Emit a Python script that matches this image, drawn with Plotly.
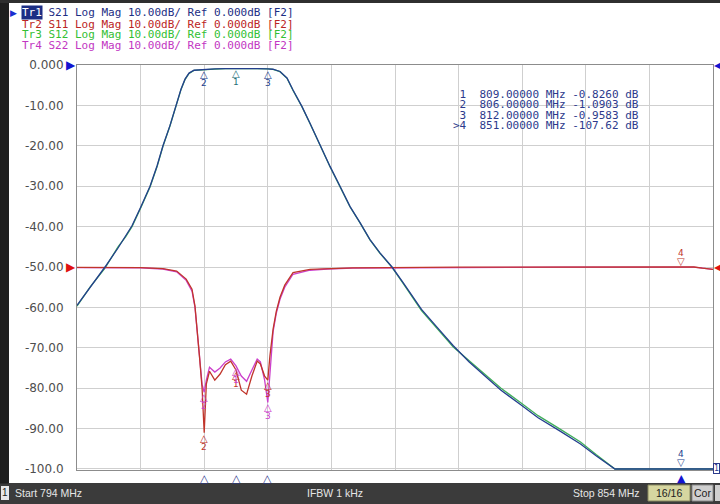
import numpy as np
import plotly.graph_objects as go

# ---------------- data ----------------
f21 = [794, 795.23, 796.64, 797.87, 798.6, 799.19, 800.04, 800.89, 801.55, 802.11, 802.77,
       803.34, 803.81, 804.19, 804.57, 805.04, 806, 807, 808, 809, 810, 811, 812,
       812.49, 813.15, 813.81, 814.38, 815.23, 815.98, 816.92, 817.87, 818.81, 819.75,
       820.70, 821.64, 822.58, 823.72, 824.75, 825.70, 826.5, 828, 829.5, 831, 832.5,
       834, 835.8, 837.5, 839.5, 841.5, 843, 844.75, 847, 849, 851, 852.5, 854]
s21 = [-59.5, -55.2, -50, -45.3, -42.3, -39.8, -35, -30, -25, -20, -15, -10, -6, -3.5, -2.0,
       -1.3, -1.09, -0.98, -0.88, -0.826, -0.85, -0.9, -0.958, -1.05, -1.6, -3.2, -6.2,
       -10.3, -14.4, -19.8, -25.1, -30, -35, -39, -43.2, -46.5, -50, -53.8, -57.5,
       -60.5, -65, -69.5, -73.5, -77, -80.5, -84, -87.3, -90.5, -93.8, -96.8, -100,
       -103.5, -106, -107.62, -109, -110]
s12 = [-59.7, -55.0, -50.3, -45.0, -42.5, -40.0, -35.2, -30.2, -25.2, -20.1, -15.1, -10.1,
       -6.1, -3.6, -2.1, -1.35, -1.12, -1.0, -0.9, -0.85, -0.87, -0.92, -0.98, -1.08,
       -1.65, -3.3, -6.3, -10.4, -14.5, -19.9, -25.2, -30.1, -35.1, -39.1, -43.3, -46.6,
       -50.1, -54.0, -57.7, -60.8, -65.3, -69.8, -73.2, -76.6, -80.0, -83.5, -86.8,
       -90.0, -93.3, -96.5, -100.2, -103.8, -106.3, -107.9, -109.2, -110.2]

f_refl = [794, 797, 800, 802.1, 803.4, 804.3, 804.85, 805.13, 805.32, 805.55, 805.8,
          806.0, 806.2, 806.5, 807.0, 807.5, 808.0, 808.5, 809.0, 809.5, 810.0, 810.5,
          811.0, 811.3, 811.7, 812.0, 812.2, 812.5, 812.8, 813.15, 813.6, 814.38,
          815.98, 817.6, 820, 830, 840, 850, 852.2, 853, 854]
s11 = [-50.1, -50.1, -50.15, -50.4, -51.0, -53.0, -55.5, -59.7, -64.7, -72, -80,
       -91.0, -79, -75.8, -78, -76.5, -74.2, -73.3, -75.5, -80.5, -81.5, -77, -73.3,
       -74, -77, -78, -72, -65.4, -61, -57.5, -54.5, -51.4, -50.6, -50.4, -50.2,
       -50.05, -50.0, -50.0, -50.0, -50.3, -50.6]
s22 = [-50.15, -50.15, -50.2, -50.5, -51.2, -53.3, -56, -60, -65, -72, -79,
       -81, -78, -74.8, -76, -75, -73.5, -72.8, -74.5, -77, -78.3, -75.5, -72.8,
       -73.5, -78, -83.5, -76, -66, -61.5, -58, -55, -51.8, -50.8, -50.5, -50.3,
       -50.1, -50.05, -50.05, -50.05, -50.3, -50.6]

ytick_vals = [0, -10, -20, -30, -40, -50, -60, -70, -80, -90, -100]
ytick_text = ["0.000", "-10.00", "-20.00", "-30.00", "-40.00", "-50.00", "-60.00",
              "-70.00", "-80.00", "-90.00", "-100.0"]

trace_ids = ["Tr1", "Tr2", "Tr3", "Tr4"]
trace_params = ["S21", "S11", "S12", "S22"]
trace_fmt = "Log Mag 10.00dB/ Ref 0.000dB [F2]"

marker_ids = ["1", "2", "3", ">4"]
marker_freqs = [809.0, 806.0, 812.0, 851.0]
marker_vals = [-0.8260, -1.0903, -0.9583, -107.62]

start_label = "Start 794 MHz"
ifbw_label = "IFBW 1 kHz"
stop_label = "Stop 854 MHz"
avg_label = "16/16"
cor_label = "Cor"

# ---------------- styling ----------------
YMIN, YMAX = -100.0, 0.0
C21, C11, C12, C22 = "#243f8e", "#c0352b", "#3fae5a", "#cc40cc"
HDR_COLORS = ["#1c2e84", "#bb2424", "#33c033", "#c236c2"]
MONO = "DejaVu Sans Mono"
SANS = "DejaVu Sans"

W, H = 720, 504
L, R, T, B = 77, 713, 65, 470


def PX(px):
    return (px - L) / (R - L)


def PY(py):
    return (B - py) / (B - T)


fig = go.Figure()
for fx, vals, col in [(f21, s12, C12), (f_refl, s22, C22), (f_refl, s11, C11), (f21, s21, C21)]:
    fig.add_trace(go.Scatter(
        x=fx, y=np.maximum(np.array(vals), YMIN), mode="lines",
        line=dict(color=col, width=1.3), hoverinfo="skip"))

ann = []
shapes = []

# header lines
hdr_y = [13, 24, 35, 46]
for i in range(4):
    txt = f"{trace_ids[i]} {trace_params[i]} {trace_fmt}"
    ann.append(dict(xref="paper", yref="paper", x=PX(21), y=PY(hdr_y[i]), text=txt,
                    showarrow=False, xanchor="left", yanchor="middle", borderpad=0,
                    font=dict(family=MONO, size=11, color=HDR_COLORS[i])))
ann.append(dict(xref="paper", yref="paper", x=PX(21), y=PY(hdr_y[0]), text=trace_ids[0],
                showarrow=False, xanchor="left", yanchor="middle", borderpad=0,
                bgcolor="#1c2e84", font=dict(family=MONO, size=11, color="white")))
ann.append(dict(xref="paper", yref="paper", x=PX(19), y=PY(hdr_y[0]), text="▶",
                showarrow=False, xanchor="right", yanchor="middle",
                font=dict(family=SANS, size=9, color="#1a2fd0")))

# marker readout
read_y = [94, 104.5, 115, 125.5]
for i in range(4):
    v = marker_vals[i]
    vs = f"{v:.4f}" if abs(v) < 10 else f"{v:.2f}"
    txt = f"{marker_ids[i]:>2}  {marker_freqs[i]:.5f} MHz {vs} dB"
    ann.append(dict(xref="paper", yref="paper", x=PX(452), y=PY(read_y[i]), text=txt,
                    showarrow=False, xanchor="left", yanchor="middle", borderpad=0,
                    font=dict(family=MONO, size=11, color="#2c3a8c")))

# markers on traces
mk_freqs = marker_freqs[:3]
mk_names = ["1", "2", "3"]
for fx, vals, col in [(f21, s21, C21), (f_refl, s11, C11), (f_refl, s22, C22)]:
    for fm, nm in zip(mk_freqs, mk_names):
        yv = float(np.interp(fm, fx, vals))
        c = "#1f6f78" if (col == C21 and nm == "1") else col
        ann.append(dict(x=fm, y=yv, text="△", showarrow=False, yanchor="top", yshift=2,
                        font=dict(family=SANS, size=10, color=c)))
        ann.append(dict(x=fm, y=yv, text=nm, showarrow=False, yanchor="top", yshift=-7,
                        font=dict(family=SANS, size=9, color=c)))

# marker 4 on S11
m4 = marker_freqs[3]
y4 = float(np.interp(m4, f_refl, s11))
ann.append(dict(x=m4, y=y4, text="▽", showarrow=False, yanchor="bottom", yshift=-2,
                font=dict(family=SANS, size=10, color=C11)))
ann.append(dict(x=m4, y=y4, text="4", showarrow=False, yanchor="bottom", yshift=7,
                font=dict(family=SANS, size=9, color=C11)))
# marker 4 on S21 (off scale)
ann.append(dict(x=m4, y=YMIN, text="▽", showarrow=False, yanchor="bottom", yshift=-1,
                font=dict(family=SANS, size=10, color=C21)))
ann.append(dict(x=m4, y=YMIN, text="4", showarrow=False, yanchor="bottom", yshift=8,
                font=dict(family=SANS, size=9, color=C21)))
ann.append(dict(x=m4, y=YMIN, text="▲", showarrow=False, yanchor="top", yshift=-1,
                font=dict(family=SANS, size=11, color="#1414d0")))
# stimulus markers under the axis
for fm in mk_freqs:
    ann.append(dict(x=fm, y=YMIN, text="△", showarrow=False, yanchor="top", yshift=-1,
                    font=dict(family=SANS, size=11, color="#2c3a8c")))

# reference position arrows
for yv, col in [(0, "#1414d0"), (-50, "#e01010")]:
    ann.append(dict(x=794, y=yv, text="▶", showarrow=False, xanchor="right", yanchor="middle",
                    xshift=1, font=dict(family=SANS, size=12, color=col)))
    ann.append(dict(x=854, y=yv, text="◀", showarrow=False, xanchor="left", yanchor="middle",
                    xshift=-1, font=dict(family=SANS, size=12, color=col)))
ann.append(dict(xref="paper", yref="y", x=PX(716), y=YMIN, text="1", showarrow=False,
                xanchor="center", yanchor="middle", borderpad=0, bordercolor="#2c3a8c",
                borderwidth=1, font=dict(family=SANS, size=8, color="#2c3a8c")))

# status bar
shapes.append(dict(type="rect", xref="paper", yref="paper", x0=PX(0), x1=PX(720), y0=PY(504),
                   y1=PY(483), fillcolor="#3b3b3b", line=dict(width=0), layer="above"))
shapes.append(dict(type="rect", xref="paper", yref="paper", x0=PX(1), x1=PX(9), y0=PY(500),
                   y1=PY(486), fillcolor="#e8e8e8", line=dict(width=0), layer="above"))
shapes.append(dict(type="rect", xref="paper", yref="paper", x0=PX(648), x1=PX(690), y0=PY(501),
                   y1=PY(485), fillcolor="#d6d6a0", line=dict(color="#8a8a60", width=1), layer="above"))
shapes.append(dict(type="rect", xref="paper", yref="paper", x0=PX(692), x1=PX(713), y0=PY(501),
                   y1=PY(485), fillcolor="#cfcfcf", line=dict(color="#8a8a8a", width=1), layer="above"))
shapes.append(dict(type="rect", xref="paper", yref="paper", x0=PX(715), x1=PX(720), y0=PY(501),
                   y1=PY(485), fillcolor="#cfcfcf", line=dict(width=0), layer="above"))

# dark frame strips (left edge and top edge), listed last
shapes.append(dict(type="rect", xref="paper", yref="paper", x0=PX(0), x1=PX(8.5),
                   y0=PY(483), y1=PY(0), fillcolor="#1f1f1f",
                   line=dict(color="#1f1f1f", width=1), layer="above"))
shapes.append(dict(type="rect", xref="paper", yref="paper", x0=PX(0), x1=PX(720),
                   y0=PY(2.5), y1=PY(0), fillcolor="#2f2f2f",
                   line=dict(color="#2f2f2f", width=1), layer="above"))

bar_y = PY(493)
bar_font = dict(family="Liberation Sans", size=10.5, color="#e6e6e6")
ann.append(dict(xref="paper", yref="paper", x=PX(5), y=bar_y, text="1", showarrow=False,
                xanchor="center", yanchor="middle", font=dict(family="Liberation Sans", size=10, color="#202020")))
ann.append(dict(xref="paper", yref="paper", x=PX(13), y=bar_y, text=start_label, showarrow=False,
                xanchor="left", yanchor="middle", font=bar_font))
ann.append(dict(xref="paper", yref="paper", x=PX(305), y=bar_y, text=ifbw_label, showarrow=False,
                xanchor="left", yanchor="middle", font=bar_font))
ann.append(dict(xref="paper", yref="paper", x=PX(642), y=bar_y, text=stop_label, showarrow=False,
                xanchor="right", yanchor="middle", font=bar_font))
ann.append(dict(xref="paper", yref="paper", x=PX(669), y=bar_y, text=avg_label, showarrow=False,
                xanchor="center", yanchor="middle", font=dict(family="Liberation Sans", size=10.5, color="#202020")))
ann.append(dict(xref="paper", yref="paper", x=PX(702.5), y=bar_y, text=cor_label, showarrow=False,
                xanchor="center", yanchor="middle", font=dict(family="Liberation Sans", size=10.5, color="#202020")))

fig.update_layout(
    width=W, height=H,
    margin=dict(l=L, r=W - R, t=T, b=H - B, pad=0),
    paper_bgcolor="white", plot_bgcolor="white", showlegend=False,
    font=dict(family=SANS, size=12, color="#505050"),
    annotations=ann, shapes=shapes,
    xaxis=dict(range=[794, 854], tick0=794, dtick=6, showticklabels=False, ticks="",
               showgrid=True, gridcolor="#cfcfcf", gridwidth=1, zeroline=False,
               showline=True, linecolor="#8c8c8c", linewidth=1, mirror=True,
               automargin=False, layer="below traces"),
    yaxis=dict(range=[YMIN - 0.25, YMAX], tickvals=ytick_vals, ticktext=ytick_text,
               ticks="", ticklabelstandoff=10, showgrid=True, gridcolor="#cfcfcf",
               gridwidth=1, zeroline=False, showline=True, linecolor="#8c8c8c",
               linewidth=1, mirror=True, automargin=False, layer="below traces",
               tickfont=dict(family=SANS, size=12, color="#4e4e4e")),
)

fig.write_html("out.html", config={"displayModeBar": False},
               post_script="document.body.style.margin='0';document.body.style.overflow='hidden';")
